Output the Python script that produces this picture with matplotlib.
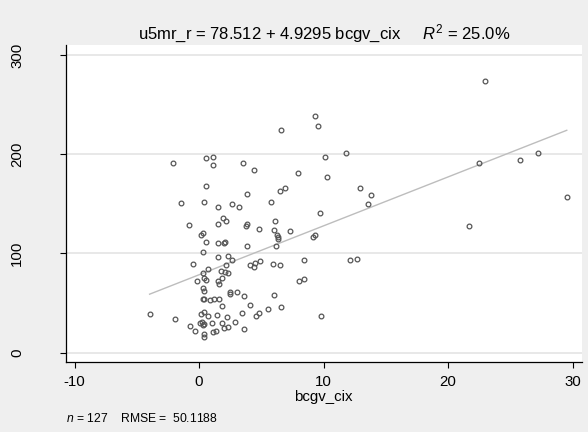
import numpy as np
import matplotlib
matplotlib.use('Agg')
import matplotlib.pyplot as plt

plt.rcParams['font.family'] = ['Liberation Sans', 'DejaVu Sans']
plt.rcParams['mathtext.fontset'] = 'custom'
plt.rcParams['mathtext.rm'] = 'Liberation Sans'
plt.rcParams['mathtext.it'] = 'Liberation Sans:italic'
plt.rcParams['axes.unicode_minus'] = False

# BCG coverage change vs under-5 mortality residual
bcgv_cix = [-2.12, 0.59, 1.12, 1.12, 3.56, 4.44, 0.53, 3.88, -1.48, 0.43,
            1.52, 2.65, 3.24, 1.90, 2.14, 1.52, -0.78, 3.86, 3.80, 4.79,
            0.18, 0.32, 0.56, 1.50, 2.00, 2.10, 3.86, 0.32, -0.46, 1.50,
            2.33, 2.67, 2.19, 0.75, 0.29, 1.79, 2.06, 2.33, 0.43, 0.53,
            -0.16, 1.50, 1.85, 1.63, 4.12, 4.39, 4.50, 4.92, 0.32, 0.43,
            0.32, 0.43, 0.91, 1.23, 1.63, 2.51, 2.51, 3.08, 3.61, 1.82,
            4.10, -3.97, -1.90, 0.18, 0.43, 0.75, 1.47, 2.27, 3.42, 4.60,
            4.82, -0.70, -0.35, 0.10, 0.30, 0.40, 1.07, 1.85, 1.98, 2.30,
            2.92, 3.58, 1.12, 1.39, 0.43, 0.43, 6.56, 9.34, 9.58, 10.12,
            11.78, 7.98, 10.25, 6.47, 6.90, 5.78, 6.07, 9.69, 12.90, 13.84,
            13.54, 6.05, 6.30, 6.35, 6.37, 7.33, 6.21, 9.12, 9.32, 5.91,
            6.47, 8.46, 12.15, 12.66, 8.00, 8.46, 6.05, 5.57, 6.61, 9.80,
            22.97, 22.51, 25.75, 27.25, 29.53, 21.69, 0.20]
u5mr_r = [190.8, 196.2, 196.9, 188.8, 190.8, 184.1, 168.0, 160.0, 150.9, 151.9,
          146.9, 149.9, 146.9, 136.2, 132.8, 129.5, 128.5, 129.2, 127.3, 125.1,
          118.4, 120.7, 111.4, 110.7, 111.0, 111.4, 107.6, 101.6, 89.5, 96.0,
          97.0, 93.6, 88.2, 83.9, 80.5, 82.5, 81.5, 79.9, 75.5, 73.1,
          71.8, 72.1, 74.8, 69.1, 87.9, 85.9, 90.5, 92.0, 65.1, 62.4,
          53.7, 53.7, 53.0, 53.7, 53.7, 61.4, 59.1, 61.1, 57.0, 47.0,
          47.7, 39.2, 34.2, 39.2, 41.3, 36.9, 37.9, 35.6, 39.9, 37.0,
          39.6, 26.9, 21.5, 29.5, 27.5, 28.8, 29.9, 29.9, 25.2, 25.9,
          30.9, 23.8, 20.8, 21.8, 18.5, 15.8, 224.0, 238.1, 228.8, 197.6,
          200.9, 180.8, 176.8, 162.7, 166.0, 151.9, 132.8, 140.8, 166.0, 159.0,
          149.9, 124.1, 118.5, 116.5, 114.5, 122.7, 107.6, 116.1, 118.7, 89.2,
          87.9, 93.6, 93.6, 94.6, 71.8, 73.8, 57.7, 43.7, 45.7, 36.6,
          274.0, 190.8, 193.9, 200.9, 157.0, 127.8, 30.5]

intercept = 78.512
slope = 4.9295
r2 = 25.0
rmse = 50.1188

xticks = [-10, 0, 10, 20, 30]
yticks = [0, 100, 200, 300]

fig = plt.figure(figsize=(5.88, 4.32), dpi=100, facecolor='#efefef')
ax = fig.add_axes([0.1117, 0.1613, 0.8776, 0.7345])
ax.set_facecolor('white')

for yv in yticks:
    ax.axhline(yv, color='#e6e6e6', lw=1.3, zorder=0)

xs = np.array([min(bcgv_cix), max(bcgv_cix)])
ax.plot(xs, intercept + slope * xs, color='#bdbdbd', lw=1.0, zorder=1)
ax.plot(bcgv_cix, u5mr_r, 'o', ms=3.4, mfc='none', mec='#555555', mew=0.9, zorder=2)

ax.set_xlim(-10.71, 30.73)
ax.set_ylim(-9.7, 310)
ax.set_xticks(xticks)
ax.set_yticks(yticks)
ax.set_yticklabels([str(v) for v in yticks], rotation=90, va='center')
ax.tick_params(axis='both', length=4, width=0.8, labelsize=10.8)
ax.tick_params(axis='x', pad=5)
ax.tick_params(axis='y', pad=26)

for s in ['top', 'right']:
    ax.spines[s].set_visible(False)
ax.spines['left'].set_linewidth(0.9)
ax.spines['bottom'].set_linewidth(0.9)

ax.set_xlabel('bcgv_cix', fontsize=10.8, labelpad=1)
ax.set_title('u5mr_r = %.3f + %.4f bcgv_cix     $R^2$ = %.1f%%' % (intercept, slope, r2),
             fontsize=12, pad=4)

fig.text(0.1117, 0.022, '$n$ = %d    RMSE =  %.4f' % (len(bcgv_cix), rmse), fontsize=8.7)

fig.savefig('out.png', dpi=100, facecolor=fig.get_facecolor())
